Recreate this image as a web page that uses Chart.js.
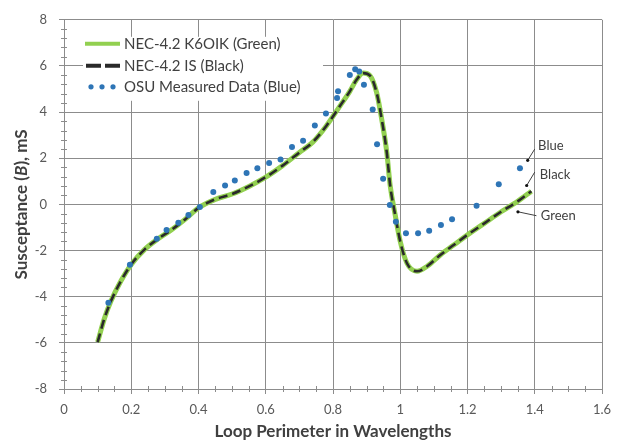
<!DOCTYPE html>
<html>
<head>
<meta charset="utf-8">
<title>Loop susceptance vs perimeter</title>
<script src="https://cdn.jsdelivr.net/npm/chart.js@4.4.0/dist/chart.umd.min.js"></script>
<style>
  html, body { margin: 0; padding: 0; background: #fff; }
  #wrap { width: 621px; height: 445px; position: relative; }
</style>
</head>
<body>
<div id="wrap"><canvas id="susChart"></canvas></div>
<script>
// NEC-4.2 model runs: perimeter (wavelengths) and susceptance (mS)
const necPerimeter = [0.10, 0.12, 0.14, 0.17, 0.20, 0.24, 0.28, 0.32, 0.36, 0.40,
                      0.45, 0.50, 0.55, 0.60, 0.65, 0.70, 0.74, 0.78, 0.82, 0.85,
                      0.87, 0.89, 0.91, 0.93, 0.945, 0.96, 0.97, 0.985, 1.00, 1.02,
                      1.05, 1.08, 1.12, 1.16, 1.20, 1.25, 1.30, 1.35, 1.39];
const necK6oik = [-5.97, -4.95, -4.18, -3.3, -2.6, -1.95, -1.49, -1.1, -0.65, -0.15,
                  0.22, 0.45, 0.78, 1.18, 1.68, 2.25, 2.7, 3.4, 4.25, 4.9,
                  5.4, 5.69, 5.58, 4.83, 3.68, 2.25, 0.82, -0.46, -1.61, -2.55,
                  -2.9, -2.68, -2.18, -1.75, -1.32, -0.82, -0.32, 0.14, 0.57];
const necIs = [-5.97, -4.95, -4.18, -3.3, -2.6, -1.95, -1.49, -1.1, -0.65, -0.15,
               0.22, 0.45, 0.78, 1.18, 1.68, 2.25, 2.7, 3.4, 4.25, 4.9,
               5.4, 5.69, 5.58, 4.83, 3.68, 2.25, 0.82, -0.46, -1.61, -2.55,
               -2.9, -2.68, -2.18, -1.75, -1.32, -0.82, -0.32, 0.14, 0.57];

// OSU bench measurements
const osuPerimeter = [0.132, 0.196, 0.276, 0.305, 0.34, 0.37, 0.404, 0.444, 0.479, 0.508,
                      0.543, 0.575, 0.61, 0.644, 0.678, 0.711, 0.746, 0.779, 0.812, 0.815,
                      0.85, 0.866, 0.878, 0.892, 0.918, 0.931, 0.949, 0.969, 0.987, 1.017,
                      1.053, 1.086, 1.121, 1.154, 1.227, 1.293, 1.356];
const osuSusceptance = [-4.26, -2.61, -1.49, -1.11, -0.79, -0.46, -0.11, 0.54, 0.82, 1.04,
                        1.36, 1.57, 1.79, 1.95, 2.49, 2.76, 3.42, 3.94, 4.61, 4.9,
                        5.61, 5.86, 5.76, 5.18, 4.11, 2.61, 1.11, -0.03, -0.75, -1.25,
                        -1.25, -1.14, -0.89, -0.64, -0.06, 0.87, 1.57];

const seriesNames = ['NEC-4.2 K6OIK (Green)', 'NEC-4.2 IS (Black)', 'OSU Measured Data (Blue)'];
const xTickValues = [0, 0.2, 0.4, 0.6, 0.8, 1, 1.2, 1.4, 1.6];
const yTickValues = [-8, -6, -4, -2, 0, 2, 4, 6, 8];

const GRID = '#8c8c8c';
const TEXT = '#404040';
const GREEN = '#92d050';
const BLACK = '#2a2a2a';
const BLUE = '#2e75b6';
const FONT = 'Lato, "Open Sans", sans-serif';

// small callouts naming each curve near its right end (data units)
const curveTags = [
  { label: 'Blue',  at: [1.379, 1.91],  elbow: [1.400, 2.40],  text: [1.410, 2.55] },
  { label: 'Black', at: [1.376, 0.82],  elbow: [1.400, 1.40],  text: [1.415, 1.27] },
  { label: 'Green', at: [1.350, -0.32], elbow: [1.405, -0.49], text: [1.418, -0.49] }
];

function pairs(xs, ys) {
  return xs.map((x, i) => ({ x: x, y: ys[i] }));
}

/* ---------- extra drawing: minor ticks, legend, callouts, axis titles ---------- */

const decorations = {
  id: 'decorations',
  beforeDatasetsDraw(chart) {
    const { ctx, chartArea: a, scales: { x, y } } = chart;
    ctx.save();
    ctx.strokeStyle = GRID;
    ctx.lineWidth = 1;
    ctx.beginPath();
    for (let i = 0; i <= 32; i++) {
      if (i % 4 === 0) continue;
      const px = Math.round(x.getPixelForValue(i * 0.05)) + 0.5;
      ctx.moveTo(px, a.bottom - 3);
      ctx.lineTo(px, a.bottom + 3);
    }
    for (let i = 0; i <= 40; i++) {
      if (i % 5 === 0) continue;
      const py = Math.round(y.getPixelForValue(-8 + i * 0.4)) + 0.5;
      ctx.moveTo(a.left - 3, py);
      ctx.lineTo(a.left + 3, py);
    }
    ctx.stroke();
    ctx.restore();
  },
  afterDraw(chart) {
    const { ctx, chartArea: a, scales: { x, y } } = chart;
    ctx.save();

    // legend box
    const lx = a.left + 19, ly = a.top + 17;
    ctx.fillStyle = '#fff';
    ctx.fillRect(lx, ly, 240, 64);
    const rows = [ly + 7, ly + 29, ly + 50];
    const sx0 = lx + 2, sx1 = lx + 37;

    ctx.lineCap = 'butt';
    ctx.strokeStyle = GREEN;
    ctx.lineWidth = 4;
    ctx.beginPath();
    ctx.moveTo(sx0, rows[0]); ctx.lineTo(sx1, rows[0]);
    ctx.stroke();

    ctx.strokeStyle = BLACK;
    ctx.setLineDash([15, 4]);
    ctx.beginPath();
    ctx.moveTo(sx0 + 1, rows[1]); ctx.lineTo(sx1, rows[1]);
    ctx.stroke();
    ctx.setLineDash([]);

    ctx.fillStyle = BLUE;
    [6, 17, 28].forEach(d => {
      ctx.beginPath();
      ctx.arc(sx0 + d, rows[2], 2.6, 0, Math.PI * 2);
      ctx.fill();
    });

    ctx.fillStyle = TEXT;
    ctx.font = '15px ' + FONT;
    ctx.textBaseline = 'middle';
    ctx.textAlign = 'left';
    seriesNames.forEach((name, i) => ctx.fillText(name, lx + 41, rows[i]));

    // callouts
    ctx.strokeStyle = TEXT;
    ctx.lineWidth = 1;
    ctx.font = '13px ' + FONT;
    curveTags.forEach(t => {
      const ax = x.getPixelForValue(t.at[0]), ay = y.getPixelForValue(t.at[1]);
      const ex = x.getPixelForValue(t.elbow[0]), ey = y.getPixelForValue(t.elbow[1]);
      ctx.beginPath();
      ctx.moveTo(ax, ay); ctx.lineTo(ex, ey);
      ctx.stroke();
      ctx.fillStyle = '#111';
      ctx.beginPath();
      ctx.arc(ax, ay, 1.6, 0, Math.PI * 2);
      ctx.fill();
      ctx.fillStyle = TEXT;
      ctx.fillText(t.label, x.getPixelForValue(t.text[0]), y.getPixelForValue(t.text[1]));
    });

    // x axis title
    ctx.fillStyle = TEXT;
    ctx.textAlign = 'center';
    ctx.font = 'bold 17px ' + FONT;
    ctx.fillText('Loop Perimeter in Wavelengths', (a.left + a.right) / 2, 432);

    // y axis title, with the B set in italics
    const parts = [['Susceptance (', 'bold'], ['B', 'italic bold'], ['), mS', 'bold']];
    const widths = parts.map(p => { ctx.font = p[1] + ' 17px ' + FONT; return ctx.measureText(p[0]).width; });
    const total = widths.reduce((s, w) => s + w, 0);
    ctx.translate(22, (a.top + a.bottom) / 2);
    ctx.rotate(-Math.PI / 2);
    ctx.textAlign = 'left';
    let cx = -total / 2;
    parts.forEach((p, i) => {
      ctx.font = p[1] + ' 17px ' + FONT;
      ctx.fillText(p[0], cx, 0);
      cx += widths[i];
    });

    ctx.restore();
  }
};

/* ---------- chart ---------- */

const ctx = document.getElementById('susChart').getContext('2d');
new Chart(ctx, {
  type: 'scatter',
  data: {
    datasets: [
      {
        label: seriesNames[0],
        data: pairs(necPerimeter, necK6oik),
        showLine: true,
        borderColor: GREEN,
        borderWidth: 5,
        pointRadius: 0,
        cubicInterpolationMode: 'monotone',
        order: 3
      },
      {
        label: seriesNames[1],
        data: pairs(necPerimeter, necIs),
        showLine: true,
        borderColor: BLACK,
        borderWidth: 2.6,
        borderDash: [9, 5],
        pointRadius: 0,
        cubicInterpolationMode: 'monotone',
        order: 2
      },
      {
        label: seriesNames[2],
        data: pairs(osuPerimeter, osuSusceptance),
        showLine: false,
        pointRadius: 3,
        pointBackgroundColor: BLUE,
        pointBorderWidth: 0,
        order: 1
      }
    ]
  },
  options: {
    responsive: true,
    maintainAspectRatio: false,
    animation: false,
    layout: { padding: { top: 16, right: 19, left: 0, bottom: 0 } },
    plugins: {
      legend: { display: false },
      tooltip: { enabled: false }
    },
    scales: {
      x: {
        type: 'linear',
        min: 0,
        max: 1.6,
        afterBuildTicks: s => { s.ticks = xTickValues.map(v => ({ value: v })); },
        afterFit: s => { s.height = 56; },
        border: { color: GRID, width: 1 },
        grid: { color: GRID, lineWidth: 1, tickLength: 5 },
        ticks: {
          color: '#595959',
          font: { family: FONT, size: 13 },
          padding: 8,
          maxRotation: 0,
          autoSkip: false,
          callback: v => String(+v.toFixed(1))
        }
      },
      y: {
        type: 'linear',
        min: -8,
        max: 8,
        afterBuildTicks: s => { s.ticks = yTickValues.map(v => ({ value: v })); },
        afterFit: s => { s.width = 64; },
        border: { color: GRID, width: 1 },
        grid: { color: GRID, lineWidth: 1, tickLength: 5 },
        ticks: {
          color: '#595959',
          font: { family: FONT, size: 13 },
          padding: 12,
          autoSkip: false,
          callback: v => String(v)
        }
      }
    }
  },
  plugins: [decorations]
});
</script>
</body>
</html>
